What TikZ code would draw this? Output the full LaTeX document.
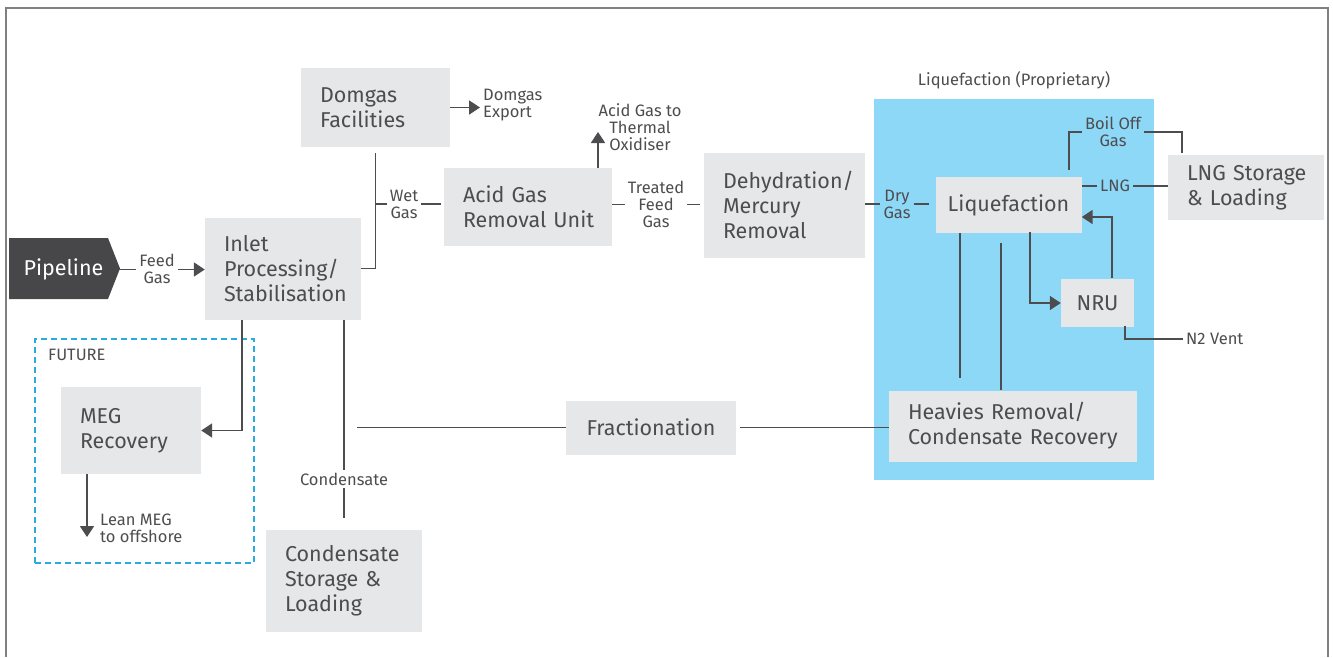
\documentclass[tikz,border=0pt]{standalone}
\usepackage{fontspec}
\setmainfont{Fira Sans}
\usetikzlibrary{arrows.meta}

% unit names are never hyphenated
\hyphenpenalty=10000
\exhyphenpenalty=10000

\definecolor{ink}{HTML}{4D4D4F}
\definecolor{boxfill}{HTML}{E6E7E8}
\definecolor{lqblue}{HTML}{8ED8F7}
\definecolor{futblue}{HTML}{29ABE2}
\definecolor{framegray}{HTML}{808080}
\definecolor{pipefill}{HTML}{47474A}

\tikzset{
  unit/.style={fill=boxfill, text=ink, font=\fontsize{21.5}{25}\selectfont, inner ysep=0pt},
  lunit/.style={unit, inner xsep=19pt, align=left},
  cunit/.style={unit, inner xsep=0pt, align=center},
  tag/.style={text=ink, font=\fontsize{16.5}{17}\selectfont, inner sep=3pt, align=center},
  ltag/.style={tag, align=left},
  flow/.style={draw=ink, line width=1.8pt},
  feed/.style={flow, -{Triangle[length=11pt,width=14pt]}},
}

\begin{document}
\begin{tikzpicture}[x=1pt, y=-1pt]
\useasboundingbox (0,0) rectangle (1333,657);

% outer frame, open at the bottom
\draw[framegray, line width=1.8pt] (6,657) -- (6,8) -- (1328,8) -- (1328,657);

% liquefaction area and future area
\node[fill=lqblue, inner sep=0pt, minimum width=280, minimum height=381] (lqarea) at (1014,289.5) {};
\node[tag] (lqtitle) at (1014,80) {Liquefaction (Proprietary)};
\node[draw=futblue, line width=1.3pt, dash pattern=on 6pt off 4pt, inner sep=0pt,
      minimum width=219, minimum height=224] (future) at (144.5,451) {};
\node[ltag, anchor=west] (futlbl) at (45,355) {FUTURE};

% pipeline
\fill[pipefill] (9,238) -- (108,238) -- (120,268.5) -- (108,299) -- (9,299) -- cycle;
\node[text=white, font=\fontsize{21.5}{25}\selectfont, inner sep=0pt,
      minimum width=109, minimum height=61] (pipe) at (63.5,269.5) {Pipeline};

% process units
\node[lunit, text width=118, minimum height=102] (inlet) at (283,268.5) {Inlet\\Processing/\\Stabilisation};
\node[lunit, text width=111, minimum height=79] (domgas) at (375.5,107.5) {Domgas\\Facilities};
\node[lunit, text width=130, minimum height=78] (acid) at (528,207) {Acid~Gas\\Removal~Unit};
\node[lunit, text width=123, minimum height=105] (dehyd) at (784.5,205) {Dehydration/\\Mercury\\Removal};
\node[cunit, minimum width=146, minimum height=56] (liq) at (1008.5,205) {Liquefaction};
\node[lunit, text width=118, minimum height=65] (lng) at (1246,187.5) {LNG~Storage\\\&~Loading};
\node[cunit, minimum width=73, minimum height=48] (nru) at (1097.5,303) {NRU};
\node[lunit, text width=210, minimum height=71] (heavies) at (1013,426) {Heavies~Removal/\\Condensate~Recovery};
\node[cunit, minimum width=170, minimum height=54] (frac) at (651,427.5) {Fractionation};
\node[lunit, text width=118, minimum height=102] (cond) at (344,581) {Condensate\\Storage~\&\\Loading};
\node[lunit, text width=102, minimum height=87] (meg) at (131,430.5) {MEG\\Recovery};

% stream labels
\node[tag] (feedlbl) at (157,268.5) {Feed\\Gas};
\node[ltag, anchor=west] (export) at (480,105.5) {Domgas\\Export};
\node[tag] (wet) at (404,204) {Wet\\Gas};
\node[tag] (agto) at (640,127) {Acid Gas to\\Thermal\\Oxidiser};
\node[tag] (treated) at (656,204.5) {Treated\\Feed\\Gas};
\node[tag] (dry) at (897,204) {Dry\\Gas};
\node[tag] (boil) at (1113,132) {Boil Off\\Gas};
\node[tag] (lnglbl) at (1115,186) {LNG};
\node[ltag, anchor=west] (n2) at (1183,339) {N2 Vent};
\node[tag] (condlbl) at (344,479) {Condensate};
\node[ltag, anchor=west] (lean) at (97,528) {Lean MEG\\to offshore};

% bend and free-end points
\coordinate (wj) at (376,204);
\coordinate (agtip) at (598,132);
\coordinate (boup) at (1069,170);
\coordinate (bodn) at (1182,153);
\coordinate (nrup) at (1112,278);
\coordinate (lqdn) at (1030,232);
\coordinate (nvo) at (1125,326);
\coordinate (hv1) at (960,378);
\coordinate (hv2) at (1001,243);
\coordinate (fracend) at (357,427.5);
\coordinate (megin) at (242,318);
\coordinate (condin) at (344,518);
\coordinate (leantip) at (87,537);

% feed gas to inlet
\draw[flow] (pipe.east) -- (feedlbl.west |- pipe.east);
\draw[feed] (feedlbl.east |- pipe.east) -- (inlet.west |- pipe.east);

% wet gas header
\draw[flow] (inlet.east) -| ([yshift=-6pt]domgas.south);
\draw[flow] (wj) -- (wet.west);
\draw[flow, shorten >=3pt] (wet.east) -- (wet.east -| acid.west);
\draw[feed] (domgas.east) -- (export.west |- domgas.east);

% acid gas removal
\draw[feed] (acid.north -| agtip) -- (agtip);
\draw[flow] (acid.east |- treated.west) -- (treated.west);
\draw[flow, shorten >=4pt] (treated.east) -- (treated.east -| dehyd.west);

% dehydration to liquefaction
\draw[flow] (dehyd.east |- dry.west) -- (dry.west);
\draw[flow, shorten >=6pt] (dry.east) -- (dry.east -| liq.west);

% boil off gas and LNG
\draw[flow] (boup) |- (boil.west);
\draw[flow] (boil.east) -| (bodn);
\draw[flow] (liq.east |- lnglbl.west) -- (lnglbl.west);
\draw[flow] (lnglbl.east) -- (lnglbl.east -| lng.west);

% nitrogen rejection
\draw[feed] (lqdn) |- (nru.west);
\draw[feed] (nrup) |- ([yshift=-12pt]liq.east);
\draw[flow] (nvo) |- (n2.west);

% heavies removal and fractionation
\draw[flow] (liq.south -| hv1) -- (hv1);
\draw[flow] (hv2) -- (heavies.north -| hv2);
\draw[flow, shorten >=4pt] (heavies.west |- frac.east) -- (frac.east);
\draw[flow] (frac.west) -- (fracend);

% condensate and MEG
\draw[flow] (inlet.south -| condin) -- (condlbl.north);
\draw[flow] (condlbl.south) -- (condin);
\draw[feed] (inlet.south -| megin) |- (meg.east);
\draw[feed] (meg.south -| leantip) -- (leantip);
\end{tikzpicture}
\end{document}
